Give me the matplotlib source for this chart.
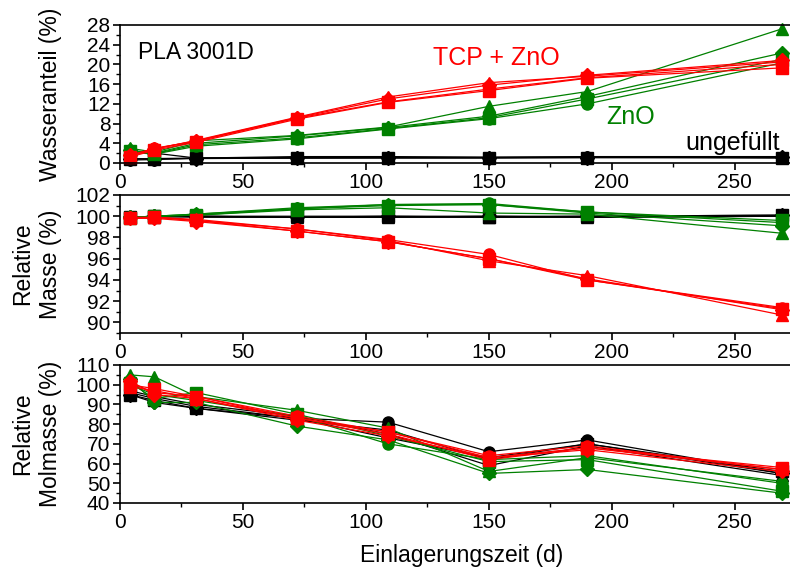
import matplotlib
matplotlib.use("Agg")
import matplotlib.pyplot as plt
from matplotlib.ticker import MultipleLocator

plt.rcParams['font.family'] = ['Liberation Sans', 'DejaVu Sans']

days = [4, 14, 31, 72, 109, 150, 190, 269]
markers = ['o', 's', '^', 'D']

# Wasseranteil (%)
water_black = [[0.6, 0.7, 1.0, 1.1, 1.1, 1.1, 1.2, 1.1],
               [0.8, 0.9, 1.0, 1.0, 1.0, 1.0, 1.1, 1.0],
               [2.3, 2.0, 1.0, 1.3, 1.3, 1.2, 1.3, 1.3],
               [0.9, 0.8, 0.9, 1.0, 1.1, 1.1, 1.1, 1.2]]
water_red = [[1.5, 3.0, 4.4, 9.1, 12.4, 15.0, 17.3, 20.0],
             [1.2, 2.6, 4.2, 8.9, 12.3, 14.7, 17.2, 19.3],
             [1.4, 2.8, 4.6, 9.3, 13.4, 16.3, 17.6, 20.5],
             [1.6, 2.9, 4.5, 9.2, 13.0, 15.8, 17.8, 20.8]]
water_green = [[2.2, 1.8, 3.4, 4.9, 6.9, 9.0, 12.0, 20.3],
               [2.4, 1.9, 3.7, 5.1, 7.0, 9.2, 13.0, 21.0],
               [3.0, 2.2, 4.5, 5.6, 7.3, 11.5, 14.5, 27.2],
               [2.6, 2.0, 4.0, 5.5, 7.2, 9.5, 13.5, 22.3]]

# Relative Masse (%)
mass_black = [[99.9, 100.0, 100.0, 99.9, 99.9, 100.0, 99.9, 100.0],
              [99.9, 100.0, 100.0, 100.0, 100.0, 99.9, 100.0, 100.1],
              [99.9, 99.9, 100.0, 99.9, 99.9, 99.9, 99.9, 100.0],
              [99.9, 100.0, 99.9, 99.9, 100.0, 100.0, 100.0, 100.1]]
mass_red = [[99.8, 99.9, 99.6, 98.8, 97.8, 96.4, 94.0, 91.4],
            [99.8, 99.9, 99.6, 98.6, 97.6, 96.0, 94.0, 91.3],
            [99.9, 99.9, 99.7, 98.8, 97.7, 95.8, 94.4, 90.7],
            [99.8, 99.8, 99.5, 98.6, 97.6, 96.0, 94.1, 91.2]]
mass_green = [[99.9, 100.0, 100.2, 100.8, 101.1, 101.2, 100.4, 99.4],
              [99.8, 100.0, 100.1, 100.7, 101.0, 101.1, 100.4, 99.6],
              [99.9, 100.0, 100.1, 100.6, 100.8, 100.3, 100.2, 98.4],
              [99.9, 100.0, 100.2, 100.7, 101.1, 101.1, 100.3, 99.1]]

# Relative Molmasse (%)
mol_black = [[96, 93, 89, 83, 81, 66, 72, 55],
             [95, 92, 88, 82, 77, 62, 70, 56],
             [97, 94, 90, 84, 75, 59, 69, 54],
             [95, 91, 88, 83, 73, 63, 70, 55]]
mol_red = [[101, 96, 94, 84, 76, 64, 69, 57],
           [100, 98, 94, 83, 76, 63, 68, 58],
           [99, 97, 93, 83, 75, 62, 68, 57],
           [102, 95, 93, 82, 74, 63, 67, 56]]
mol_green = [[100, 95, 92, 84, 70, 62, 64, 50],
             [101, 93, 96, 85, 74, 61, 62, 46],
             [105, 104, 94, 87, 78, 56, 63, 51],
             [103, 91, 91, 79, 72, 55, 57, 45]]

col_black = 'black'
col_red = '#ff0000'
col_green = '#008000'

fig = plt.figure(figsize=(7.9, 5.74), dpi=100)
W, H = 790, 574
left = 120 / W
width = 670 / W
XMAX = 272.4

def make_ax(top_px, bot_px):
    return fig.add_axes([left, 1 - bot_px / H, width, (bot_px - top_px) / H])

ax1 = make_ax(25, 163)
ax2 = make_ax(195, 333)
ax3 = make_ax(365, 503)

panels = [
    (ax1, water_black, water_green, water_red, (0, 28), 4, 2, "Wasseranteil (%)"),
    (ax2, mass_black, mass_green, mass_red, (89, 102), 2, 1, "Relative\nMasse (%)"),
    (ax3, mol_black, mol_green, mol_red, (40, 110), 10, 5, "Relative\nMolmasse (%)"),
]

for ax, blk, grn, red, ylim, maj, mnr, lab in panels:
    for data, col in ((blk, col_black), (grn, col_green), (red, col_red)):
        for vals, m in zip(data, markers):
            ax.plot(days, vals, color=col, lw=0.9, marker=m,
                    ms=8 if m != 'D' else 7, mec=col, mfc=col, clip_on=False)
    ax.set_xlim(0, XMAX)
    ax.set_ylim(*ylim)
    ax.yaxis.set_major_locator(MultipleLocator(maj))
    ax.yaxis.set_minor_locator(MultipleLocator(mnr))
    ax.xaxis.set_major_locator(MultipleLocator(50))
    ax.xaxis.set_minor_locator(MultipleLocator(25))
    ax.spines['right'].set_visible(False)
    for s in ('top', 'left', 'bottom'):
        ax.spines[s].set_linewidth(1.2)
    ax.tick_params(which='major', direction='out', length=5, width=1.2,
                   labelsize=15, pad=2)
    ax.tick_params(which='minor', direction='out', length=3, width=1.0)
    ax.set_ylabel(lab, fontsize=16.5, linespacing=1.25)
    ax.yaxis.set_label_coords(-0.087, 0.5)

ax3.set_xlabel("Einlagerungszeit (d)", fontsize=16.5)
ax3.xaxis.set_label_coords(0.51, -0.3)

def px_to_x(px):
    return (px - 120) / 670 * XMAX

ax1.text(px_to_x(138), 22.4, "PLA 3001D", fontsize=16.5, color='black', va='center')
ax1.text(px_to_x(433), 21.3, "TCP + ZnO", fontsize=18, color=col_red, va='center')
ax1.text(px_to_x(606), 9.3, "ZnO", fontsize=18, color=col_green, va='center')
ax1.text(px_to_x(685), 4.0, "ungefüllt", fontsize=18, color='black', va='center')

fig.savefig("out.png", dpi=100)
